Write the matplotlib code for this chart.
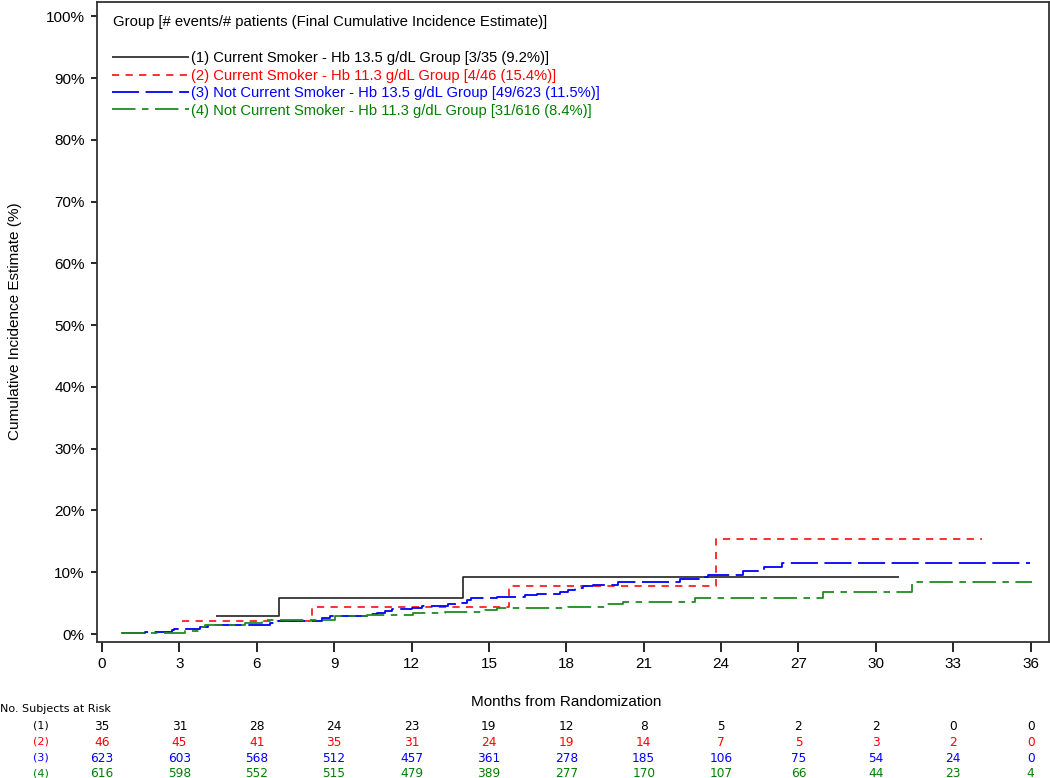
import matplotlib
matplotlib.use("Agg")
import matplotlib.pyplot as plt
from matplotlib.transforms import blended_transform_factory

# ---------------- data ----------------
months_ticks = [0, 3, 6, 9, 12, 15, 18, 21, 24, 27, 30, 33, 36]
pct_ticks = [0, 10, 20, 30, 40, 50, 60, 70, 80, 90, 100]

g1_t = [4.42, 6.86, 14.0, 30.88]
g1_v = [2.86, 5.8, 9.2, 9.2]

g2_t = [3.09, 8.13, 15.78, 23.8, 34.1]
g2_v = [2.17, 4.4, 7.8, 15.4, 15.4]

g3_t = [0.77, 1.67, 2.7, 2.8, 3.8, 4.11, 6.5, 6.77, 8.52, 8.84, 10.26, 10.65,
        10.97, 11.23, 12.0, 12.4, 13.43, 13.8, 14.14, 14.3, 15.3, 16.4, 16.85,
        17.76, 18.08, 18.34, 18.66, 19.05, 20.0, 22.4, 23.37, 23.5, 24.86,
        25.66, 26.37, 35.97]
g3_v = [0.16, 0.37, 0.65, 0.86, 1.2, 1.4, 1.8, 2.15, 2.6, 2.9, 3.18, 3.45,
        3.77, 4.0, 4.2, 4.5, 4.85, 5.1, 5.5, 5.78, 5.94, 6.3, 6.5,
        6.8, 7.1, 7.44, 7.77, 7.9, 8.5, 8.96, 9.2, 9.5, 10.2,
        10.8, 11.5, 11.5]

g4_t = [0.74, 3.22, 3.86, 4.0, 5.55, 6.19, 9.03, 10.26, 12.07, 13.3, 14.85,
        15.3, 18.08, 19.57, 20.2, 22.99, 27.96, 31.41, 36.04]
g4_v = [0.16, 0.5, 1.2, 1.45, 1.8, 2.27, 2.9, 3.07, 3.35, 3.6, 3.9,
        4.26, 4.4, 4.85, 5.23, 5.78, 6.75, 8.4, 8.4]

group_labels = ["(1) Current Smoker - Hb 13.5 g/dL Group [3/35 (9.2%)]",
                "(2) Current Smoker - Hb 11.3 g/dL Group [4/46 (15.4%)]",
                "(3) Not Current Smoker - Hb 13.5 g/dL Group [49/623 (11.5%)]",
                "(4) Not Current Smoker - Hb 11.3 g/dL Group [31/616 (8.4%)]"]
row_labels = ["(1)", "(2)", "(3)", "(4)"]
risk1 = [35, 31, 28, 24, 23, 19, 12, 8, 5, 2, 2, 0, 0]
risk2 = [46, 45, 41, 35, 31, 24, 19, 14, 7, 5, 3, 2, 0]
risk3 = [623, 603, 568, 512, 457, 361, 278, 185, 106, 75, 54, 24, 0]
risk4 = [616, 598, 552, 515, 479, 389, 277, 170, 107, 66, 44, 23, 4]

# ---------------- styling ----------------
colors = ["#222222", "#FF2020", "#0000FF", "#1E8C1E"]
text_colors = ["#000000", "#FF0000", "#0000FF", "#008000"]
dash_styles = [(0, ()), (0, (4, 3.5)), (0, (15, 3.6)), (0, (13, 3.6, 3.6, 3.6))]
lws = [1.2, 1.3, 1.3, 1.3]

W, H = 1050, 778
fig = plt.figure(figsize=(W / 100, H / 100), dpi=100)
L, R, T, B = 96.5, 1049, 1.5, 642
ax = fig.add_axes([L / W, 1 - B / H, (R - L) / W, (B - T) / H])

series = [(g1_t, g1_v), (g2_t, g2_v), (g3_t, g3_v), (g4_t, g4_v)]
handles = []
for i, (t, v) in enumerate(series):
    ln, = ax.plot(t, v, drawstyle="steps-post", color=colors[i], lw=lws[i],
                  linestyle=dash_styles[i])
    handles.append(ln)

ax.set_xlim(-0.21, 36.71)
ax.set_ylim(-1.29, 102.4)
ax.set_xticks(months_ticks)
ax.set_xticklabels([str(m) for m in months_ticks], fontsize=11, family="Liberation Sans")
ax.set_yticks(pct_ticks)
ax.set_yticklabels([f"{p}%" for p in pct_ticks], fontsize=11, family="Liberation Sans")
ax.tick_params(axis="x", length=7, width=1.2, direction="out", pad=4)
ax.tick_params(axis="y", length=4.5, width=1.2, direction="out", pad=4)
for s in ax.spines.values():
    s.set_linewidth(1.3)
    s.set_color("#333333")

# legend title and legend
fig.text(113 / W, 1 - 22 / H, "Group [# events/# patients (Final Cumulative Incidence Estimate)]",
         fontsize=10.7, family="Liberation Sans", va="center", ha="left")
leg = ax.legend(handles, group_labels, loc="upper left",
                bbox_to_anchor=(105 / W, 1 - 44 / H), bbox_transform=fig.transFigure,
                frameon=False, borderpad=0, handlelength=5.2, handletextpad=0.15,
                labelspacing=0.23, prop={"family": "Liberation Sans", "size": 10.6})
for txt, c in zip(leg.get_texts(), text_colors):
    txt.set_color(c)

# axis labels
fig.text(566 / W, 1 - 702 / H, "Months from Randomization", fontsize=11,
         family="Liberation Sans", ha="center", va="center")
fig.text(15 / W, 1 - 321 / H, "Cumulative Incidence Estimate (%)", fontsize=11,
         family="Liberation Sans", ha="center", va="center", rotation=90)

# at-risk table
fig.text(0, 1 - 709 / H, "No. Subjects at Risk", fontsize=8, family="DejaVu Sans",
         ha="left", va="center")
trans = blended_transform_factory(ax.transData, fig.transFigure)
row_y = [726, 742, 758, 773.5]
for i, vals in enumerate([risk1, risk2, risk3, risk4]):
    yy = 1 - row_y[i] / H
    fig.text(41 / W, yy, row_labels[i], fontsize=8, family="DejaVu Sans",
             ha="center", va="center", color=text_colors[i])
    for m, v in zip(months_ticks, vals):
        ax.text(m, yy, str(v), transform=trans, fontsize=8.7, family="DejaVu Sans",
                ha="center", va="center", color=text_colors[i], clip_on=False)

fig.savefig("out.png", dpi=100)
